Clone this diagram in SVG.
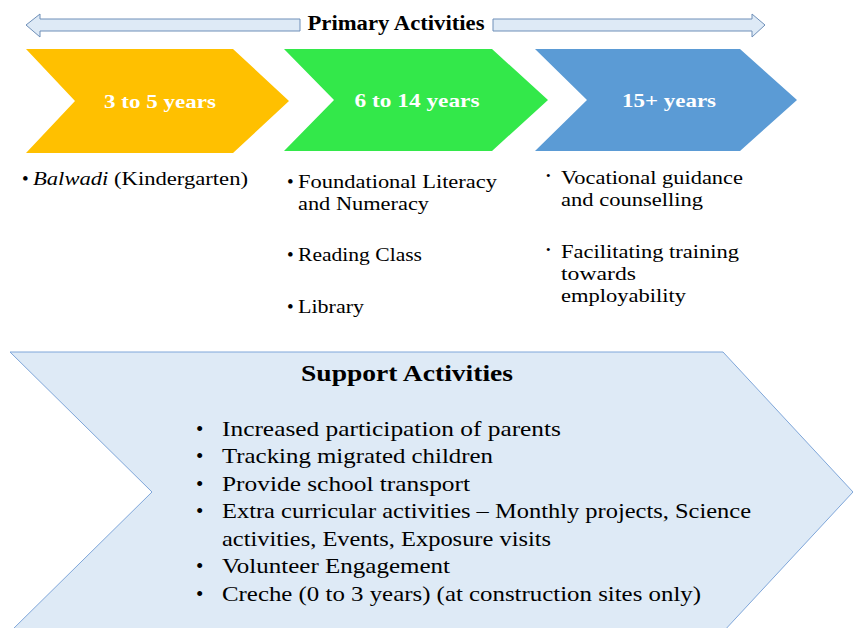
<svg xmlns="http://www.w3.org/2000/svg" width="853" height="628" viewBox="0 0 853 628">
<style>
text{font-family:"Liberation Serif","DejaVu Serif",serif;fill:#000}
.chev-t{font-weight:bold;fill:#fff;font-size:19px}
.b{font-size:19px}
.s{font-size:21px}
.h{font-weight:bold}
</style>
<rect width="853" height="628" fill="#fff"/>
<g id="primary-arrow">
<polygon points="26,25 40,14 40,19 300,19 300,31 40,31 40,37" fill="#DEEAF6" stroke="#6E8FB8" stroke-width="1"/>
<polygon points="765,25 752,14 752,19 493,19 493,31 752,31 752,37" fill="#DEEAF6" stroke="#6E8FB8" stroke-width="1"/>
<text class="h" x="396" y="30" font-size="20" text-anchor="middle" textLength="177" lengthAdjust="spacingAndGlyphs">Primary Activities</text>
</g>
<g id="age-3-5">
<polygon points="26,49 233,49 289,101 233,153 26,153 75,101" fill="#FFC000"/>
<text class="chev-t" x="160" y="108" text-anchor="middle" textLength="112" lengthAdjust="spacingAndGlyphs">3 to 5 years</text>
</g>
<g id="age-6-14">
<polygon points="284,49 492,49 548,100 492,151 284,151 334,100" fill="#33E84A"/>
<text class="chev-t" x="417" y="107" text-anchor="middle" textLength="125" lengthAdjust="spacingAndGlyphs">6 to 14 years</text>
</g>
<g id="age-15">
<polygon points="535,49 740,49 797,100 740,151 535,151 587,100" fill="#5B9BD5"/>
<text class="chev-t" x="669" y="107" text-anchor="middle" textLength="94" lengthAdjust="spacingAndGlyphs">15+ years</text>
</g>
<g id="list-3-5">
<text class="b" x="22" y="185">•</text>
<text class="b" x="33" y="185" textLength="215" lengthAdjust="spacingAndGlyphs"><tspan font-style="italic">Balwadi</tspan> (Kindergarten)</text>
</g>
<g id="list-6-14">
<text class="b" x="287" y="188">•</text>
<text class="b" x="298" y="188" textLength="199" lengthAdjust="spacingAndGlyphs">Foundational Literacy</text>
<text class="b" x="298" y="210" textLength="131" lengthAdjust="spacingAndGlyphs">and Numeracy</text>
<text class="b" x="287" y="261">•</text>
<text class="b" x="298" y="261" textLength="124" lengthAdjust="spacingAndGlyphs">Reading Class</text>
<text class="b" x="287" y="313">•</text>
<text class="b" x="298" y="313" textLength="66" lengthAdjust="spacingAndGlyphs">Library</text>
</g>
<g id="list-15">
<text x="546" y="180" font-size="13">•</text>
<text class="b" x="561" y="184" textLength="182" lengthAdjust="spacingAndGlyphs">Vocational guidance</text>
<text class="b" x="561" y="206" textLength="142" lengthAdjust="spacingAndGlyphs">and counselling</text>
<text x="546" y="254" font-size="13">•</text>
<text class="b" x="561" y="258" textLength="178" lengthAdjust="spacingAndGlyphs">Facilitating training</text>
<text class="b" x="561" y="280" textLength="75" lengthAdjust="spacingAndGlyphs">towards</text>
<text class="b" x="561" y="302" textLength="125" lengthAdjust="spacingAndGlyphs">employability</text>
</g>
<g id="support">
<polygon points="10,352 723,352 853,492 723,632 10,632 152,492" fill="#DEEAF6" stroke="#7FA6D9" stroke-width="1"/>
<text class="h" x="407" y="381" font-size="23" text-anchor="middle" textLength="212" lengthAdjust="spacingAndGlyphs">Support Activities</text>
<g class="s">
<text class="s" x="196" y="436">•</text>
<text class="s" x="222" y="436" textLength="339" lengthAdjust="spacingAndGlyphs">Increased participation of parents</text>
<text class="s" x="196" y="463">•</text>
<text class="s" x="222" y="463" textLength="271" lengthAdjust="spacingAndGlyphs">Tracking migrated children</text>
<text class="s" x="196" y="491">•</text>
<text class="s" x="222" y="491" textLength="248" lengthAdjust="spacingAndGlyphs">Provide school transport</text>
<text class="s" x="196" y="518">•</text>
<text class="s" x="222" y="518" textLength="529" lengthAdjust="spacingAndGlyphs">Extra curricular activities – Monthly projects, Science</text>
<text class="s" x="222" y="546" textLength="329" lengthAdjust="spacingAndGlyphs">activities, Events, Exposure visits</text>
<text class="s" x="196" y="573">•</text>
<text class="s" x="222" y="573" textLength="228" lengthAdjust="spacingAndGlyphs">Volunteer Engagement</text>
<text class="s" x="196" y="601">•</text>
<text class="s" x="222" y="601" textLength="479" lengthAdjust="spacingAndGlyphs">Creche (0 to 3 years) (at construction sites only)</text>
</g>
</g>
</svg>
